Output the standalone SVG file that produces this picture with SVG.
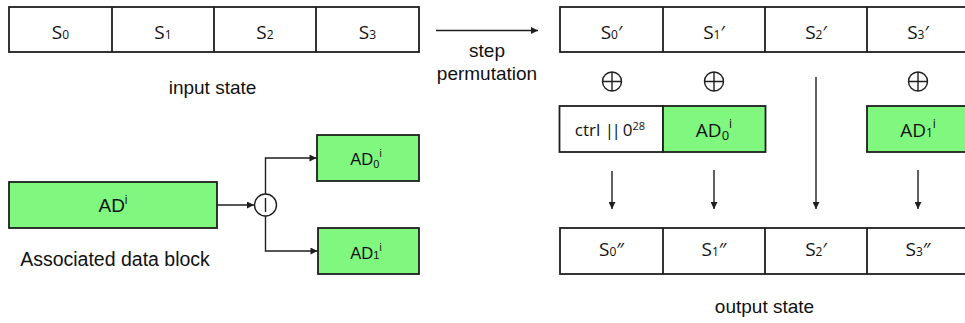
<svg xmlns="http://www.w3.org/2000/svg" width="965" height="323" viewBox="0 0 965 323">
<style>
.box{fill:#fff;stroke:#1e1e1e;stroke-width:1.8}
.g{fill:#80f880;stroke:#1e1e1e;stroke-width:1.8}
.ln{fill:none;stroke:#1e1e1e;stroke-width:1.4}
.lbl{font-family:"Liberation Sans",Arial,sans-serif;font-size:19px;fill:#111;text-anchor:middle}
.s{font-family:"Open Sans","Noto Sans",sans-serif;font-size:19px;fill:#111;text-anchor:middle}
.sub{font-size:12px}
</style>
<defs>
<marker id="ah" viewBox="0 0 10 10" refX="10" refY="5" markerWidth="8" markerHeight="7" markerUnits="userSpaceOnUse" orient="auto">
<path d="M0,0 L10,5 L0,10 z" fill="#1e1e1e"/>
</marker>
<g id="xor"><circle r="9.5" fill="#fff" stroke="#1e1e1e" stroke-width="1.4"/><path d="M-9.5,0H9.5M0,-9.5V9.5" stroke="#1e1e1e" stroke-width="1.4"/></g>
</defs>

<g id="input-state">
<rect class="box" x="9" y="7" width="410" height="45"/>
<path class="ln" style="stroke-width:1.8" d="M112,7V52M214,7V52M316,7V52"/>
<text class="s" x="60.5" y="39">S<tspan class="sub">0</tspan></text>
<text class="s" x="163" y="39">S<tspan class="sub">1</tspan></text>
<text class="s" x="265" y="39">S<tspan class="sub">2</tspan></text>
<text class="s" x="367.5" y="39">S<tspan class="sub">3</tspan></text>
<text class="lbl" x="212.5" y="94">input state</text>
</g>

<g id="permuted-state">
<rect class="box" x="560" y="7" width="412" height="45"/>
<path class="ln" style="stroke-width:1.8" d="M663,7V52M765,7V52M867,7V52"/>
<text class="s" x="611.5" y="38.5">S<tspan class="sub">0</tspan>′</text>
<text class="s" x="714" y="38.5">S<tspan class="sub">1</tspan>′</text>
<text class="s" x="816" y="38.5">S<tspan class="sub">2</tspan>′</text>
<text class="s" x="918" y="38.5">S<tspan class="sub">3</tspan>′</text>
</g>

<g id="xors">
<use href="#xor" x="612" y="81.5"/>
<use href="#xor" x="714" y="81.5"/>
<use href="#xor" x="918" y="81.5"/>
</g>

<g id="ctrl">
<rect class="box" x="559.5" y="106" width="103.5" height="46"/>
<text class="s" x="610" y="136" style="font-size:17px">ctrl <tspan letter-spacing="-2.5">||</tspan> 0<tspan style="font-size:11px" dy="-6">28</tspan></text>
</g>
<g id="ad0-right">
<rect class="g" x="663" y="106" width="102.5" height="46"/>
<text class="s" x="714" y="137">AD<tspan style="font-size:13px" dy="3">0</tspan><tspan style="font-size:12px" dy="-12">i</tspan></text>
</g>
<g id="ad1-right">
<rect class="g" x="867" y="106" width="105" height="46"/>
<text class="s" x="918" y="137">AD<tspan class="sub">1</tspan><tspan style="font-size:12px" dy="-9">i</tspan></text>
</g>

<g id="output-state">
<rect class="box" x="560" y="228" width="412" height="46"/>
<path class="ln" style="stroke-width:1.8" d="M663,228V274M765,228V274M867,228V274"/>
<text class="s" x="611.5" y="256">S<tspan class="sub">0</tspan>″</text>
<text class="s" x="714" y="256">S<tspan class="sub">1</tspan>″</text>
<text class="s" x="816" y="256">S<tspan class="sub">2</tspan>′</text>
<text class="s" x="918" y="256">S<tspan class="sub">3</tspan>″</text>
<text class="lbl" x="764.5" y="313">output state</text>
</g>

<g id="ad-block">
<rect class="g" x="9" y="182" width="208" height="46"/>
<text class="lbl" x="113" y="211.5">AD<tspan style="font-size:12px" dy="-8">i</tspan></text>
<text class="lbl" x="115" y="266" style="font-size:19.5px">Associated data block</text>
</g>

<g id="split">
<circle cx="265.5" cy="205" r="11" fill="#fff" stroke="#1e1e1e" stroke-width="1.4"/>
<path class="ln" d="M265.5,198V212"/>
</g>

<g id="ad0-left">
<rect class="g" x="317" y="135" width="102" height="46"/>
<text class="lbl" x="366" y="165" style="font-size:16.5px">AD<tspan style="font-size:11px" dy="3">0</tspan><tspan style="font-size:10px" dy="-11">i</tspan></text>
</g>
<g id="ad1-left">
<rect class="g" x="318" y="228" width="101" height="46"/>
<text class="lbl" x="366" y="258.5" style="font-size:16.5px">AD<tspan style="font-size:11px">1</tspan><tspan style="font-size:10px" dy="-8">i</tspan></text>
</g>

<g id="permutation-label">
<text class="lbl" x="487" y="57">step</text>
<text class="lbl" x="487" y="80">permutation</text>
</g>

<g id="connectors">
<path class="ln" d="M436,30.5H538" marker-end="url(#ah)"/>
<path class="ln" d="M217,205H254" marker-end="url(#ah)"/>
<path class="ln" d="M265.5,194V158H316.5" marker-end="url(#ah)"/>
<path class="ln" d="M265.5,216V251H317.5" marker-end="url(#ah)"/>
<path class="ln" d="M612,171V209" marker-end="url(#ah)"/>
<path class="ln" d="M714,170V209" marker-end="url(#ah)"/>
<path class="ln" d="M816,77V209" marker-end="url(#ah)"/>
<path class="ln" d="M918,170V209" marker-end="url(#ah)"/>
</g>
</svg>
